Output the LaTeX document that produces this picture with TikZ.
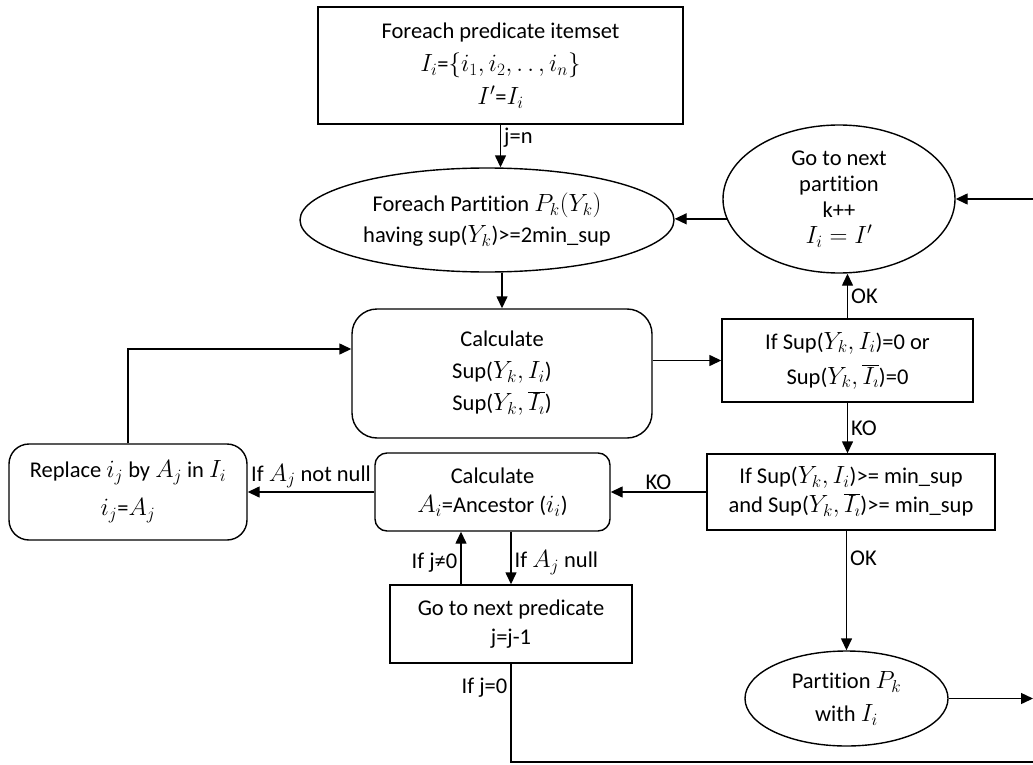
\documentclass[tikz,border=0pt]{standalone}
\usepackage{fontspec}
\setmainfont{Carlito}[Ligatures=NoCommon]
\DeclareMathSizes{22.5}{24.88}{17.28}{14.4}
\usetikzlibrary{shapes.geometric,arrows.meta}
\newcommand\fz[1]{\fontsize{22.5}{#1}\selectfont}
\begin{document}
\begin{tikzpicture}[x=1pt,y=-1pt,
  every node/.style={font=\fz{31}},
  box/.style={draw,line width=1.4pt,inner sep=0pt,align=center},
  rbox/.style={box,rounded corners=#1},
  ell/.style={draw,ellipse,line width=1.4pt,inner sep=0pt,align=center},
  arr/.style={line width=1.4pt,-{Triangle[length=12pt,width=11pt]}},
  ln/.style={line width=1.4pt},
  lab/.style={inner sep=3pt}]
\useasboundingbox (0,0) rectangle (1033,765);

\node[box,minimum width=365pt,minimum height=117pt,font=\fz{33}] (top) at (500.5,65.5)
  {Foreach predicate itemset\\ $I_i$=$\{i_1,i_2,.\,.\,,i_n\}$\\ $I'$=$I_i$};
\node[ell,minimum width=374pt,minimum height=104pt] (e1) at (487,220)
  {Foreach Partition $P_k(Y_k)$\\having sup($Y_k$)>=2min\_sup};
\node[ell,minimum width=232pt,minimum height=148pt,font=\fz{26}] (gon) at (839,199)
  {Go to next\\partition\\k++\\$I_i = I'$};
\node[rbox=25pt,minimum width=300pt,minimum height=129pt,font=\fz{32}] (calc) at (502,373.5)
  {Calculate\\Sup($Y_k,I_i$)\\Sup($Y_k,\overline{I_\imath}$)};
\node[box,minimum width=251pt,minimum height=83pt,font=\fz{35}] (if1) at (847.5,360.5)
  {If Sup($Y_k,I_i$)=0 or\\Sup($Y_k,\overline{I_\imath}$)=0};
\node[box,minimum width=288pt,minimum height=76pt,font=\fz{29}] (if2) at (851,492)
  {If Sup($Y_k,I_i$)>= min\_sup\\and Sup($Y_k,\overline{I_\imath}$)>= min\_sup};
\node[rbox=12pt,minimum width=235pt,minimum height=78pt,font=\fz{29}] (anc) at (492.5,492)
  {Calculate\\$A_i$=Ancestor ($i_i$)};
\node[rbox=20pt,minimum width=238pt,minimum height=96pt,font=\fz{38}] (rep) at (128,492)
  {Replace $i_j$ by $A_j$ in $I_i$\\$i_j$=$A_j$};
\node[box,minimum width=242pt,minimum height=78pt,font=\fz{29}] (gnp) at (511,624)
  {Go to next predicate\\j=j-1};
\node[ell,minimum width=203pt,minimum height=95pt,font=\fz{33}] (part) at (846.5,698.5)
  {Partition $P_k$\\with $I_i$};

\coordinate (edgeA) at (1033,199);
\coordinate (edgeB) at (1033,762);
\coordinate (edgeC) at (1033,701);

\draw[arr] (top.south) -- node[lab,pos=0.3,right]{j=n} (top.south |- e1.north);
\draw[arr] (e1.south -| calc.north) -- (calc.north);
\draw[arr] (calc.east |- if1.west) -- (if1.west);
\draw[arr] (if1.south) -- node[lab,pos=0.5,right]{KO} (if1.south |- if2.north);
\draw[arr] (if1.north) -- node[lab,pos=0.5,right]{OK} (if1.north |- gon.south);
\draw[arr] (edgeA) -- (gon.east);
\draw[arr] (gon.190) -- (gon.190 -| e1.east);
\draw[arr] (if2.west) -- node[lab,above,inner sep=2pt]{KO} (anc.east);
\draw[arr] (anc.west) -- node[above,inner sep=0pt,yshift=3pt]{If $A_j$ not null} (rep.east);
\draw[arr] (rep.north) |- ([yshift=24.5pt]calc.west);
\draw[arr] (anc.south -| gnp.north) -- node[lab,pos=0.5,right,yshift=-5pt]{If $A_j$ null} (gnp.north);
\draw[arr] ([xshift=-50pt]gnp.north) -- node[lab,pos=0.5,left,yshift=-5pt]{If j≠0} ([xshift=-50pt]gnp.north |- anc.south);
\draw[ln] (gnp.south) |- node[lab,pos=0.12,left]{If j=0} (edgeB);
\draw[arr] (if2.south -| part.north) -- node[lab,pos=0.23,right]{OK} (part.north);
\draw[arr] (part.east) -- (part.east -| edgeC);
\end{tikzpicture}
\end{document}
